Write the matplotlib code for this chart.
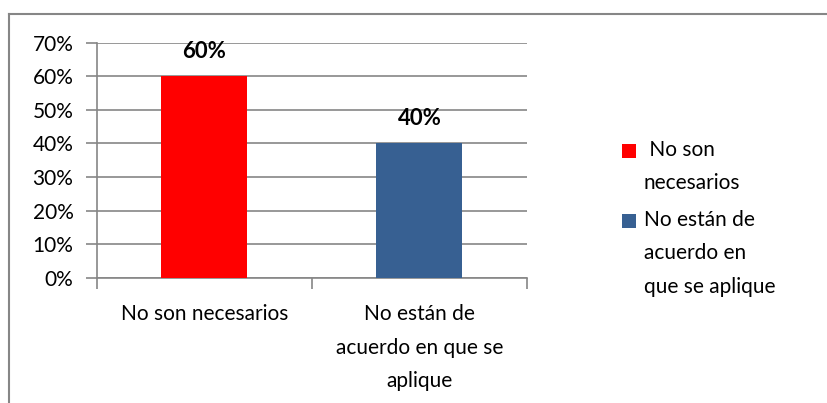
import matplotlib
matplotlib.use("Agg")
import matplotlib.pyplot as plt
from matplotlib.patches import Patch, Rectangle
from matplotlib.lines import Line2D
from matplotlib.legend_handler import HandlerPatch

categories = ["No son necesarios", "No están de\nacuerdo en que se\naplique"]
legend_labels = [" No son\nnecesarios", "No están de\nacuerdo en\nque se aplique"]
values = [0.60, 0.40]
value_labels = ["60%", "40%"]
colors = ["#FF0000", "#376092"]
yticks = [0, 0.1, 0.2, 0.3, 0.4, 0.5, 0.6, 0.7]
ytick_labels = ["0%", "10%", "20%", "30%", "40%", "50%", "60%", "70%"]

plt.rcParams['font.family'] = ['Lato', 'DejaVu Sans']
FS = 15
LS = 1.85

W, H = 828, 403
fig = plt.figure(figsize=(W / 100, H / 100), dpi=100)
fig.patch.set_facecolor("white")

ax = fig.add_axes([97 / W, 1 - 277.7 / H, (527 - 97) / W, (277.7 - 42.7) / H])
x = [0, 1]
bars = ax.bar(x, values, width=0.4, color=colors, zorder=3)
ax.set_xlim(-0.5, 1.5)
ax.set_ylim(0, 0.7)
ax.set_yticks(yticks)
ax.set_yticklabels(ytick_labels, fontsize=FS)
ax.set_xticks([-0.5, 0.5, 1.5], minor=False)
ax.set_xticklabels([])
ax.set_xticks(x, minor=True)
ax.set_xticklabels(categories, minor=True, fontsize=FS, linespacing=LS)
ax.tick_params(axis='x', which='minor', length=0, pad=19)
ax.tick_params(axis='x', which='major', length=8, color="#868686", width=1.2)
ax.tick_params(axis='y', length=8, color="#868686", width=1.2, pad=9)
ax.grid(axis='y', color="#868686", linewidth=1.2, zorder=0)
for s in ["top", "right"]:
    ax.spines[s].set_visible(False)
for s in ["left", "bottom"]:
    ax.spines[s].set_color("#868686")
    ax.spines[s].set_linewidth(1.2)

for xi, v, lab in zip(x, values, value_labels):
    ax.annotate(lab, (xi, v), xytext=(0, 18), textcoords="offset points",
                ha="center", va="center", fontsize=FS + 1, fontweight="bold")

# legend: square aligned with the first text line
line_pt = 33 * 0.72  # line spacing in points
nlines = {c: lab.count("\n") + 1 for c, lab in zip(colors, legend_labels)}


def top_square(legend, orig_handle, xdescent, ydescent, width, height, fontsize):
    n = nlines[orig_handle.get_gid()]
    s = width
    yc = height / 2 - ydescent + (n - 1) / 2 * line_pt
    return Rectangle((-xdescent, yc - s / 2), s, s)


handles = [Patch(facecolor=c, edgecolor="none", gid=c) for c in colors]
leg = fig.legend(handles, legend_labels, loc="upper left",
                 bbox_to_anchor=(603 / W, 1 - 121 / H), frameon=False,
                 fontsize=FS, handlelength=0.67, handleheight=0.67,
                 handletextpad=0.38, labelspacing=0.78,
                 handler_map={Patch: HandlerPatch(patch_func=top_square)})
for t in leg.get_texts():
    t.set_linespacing(LS)

# outer chart border
fig.add_artist(Line2D([8.5 / W, 1], [1 - 13.5 / H, 1 - 13.5 / H],
                      transform=fig.transFigure, color="#868686", linewidth=1.5))
fig.add_artist(Line2D([8.5 / W, 8.5 / W], [0, 1 - 13.5 / H],
                      transform=fig.transFigure, color="#868686", linewidth=1.5))

fig.savefig("out.png", dpi=100)
